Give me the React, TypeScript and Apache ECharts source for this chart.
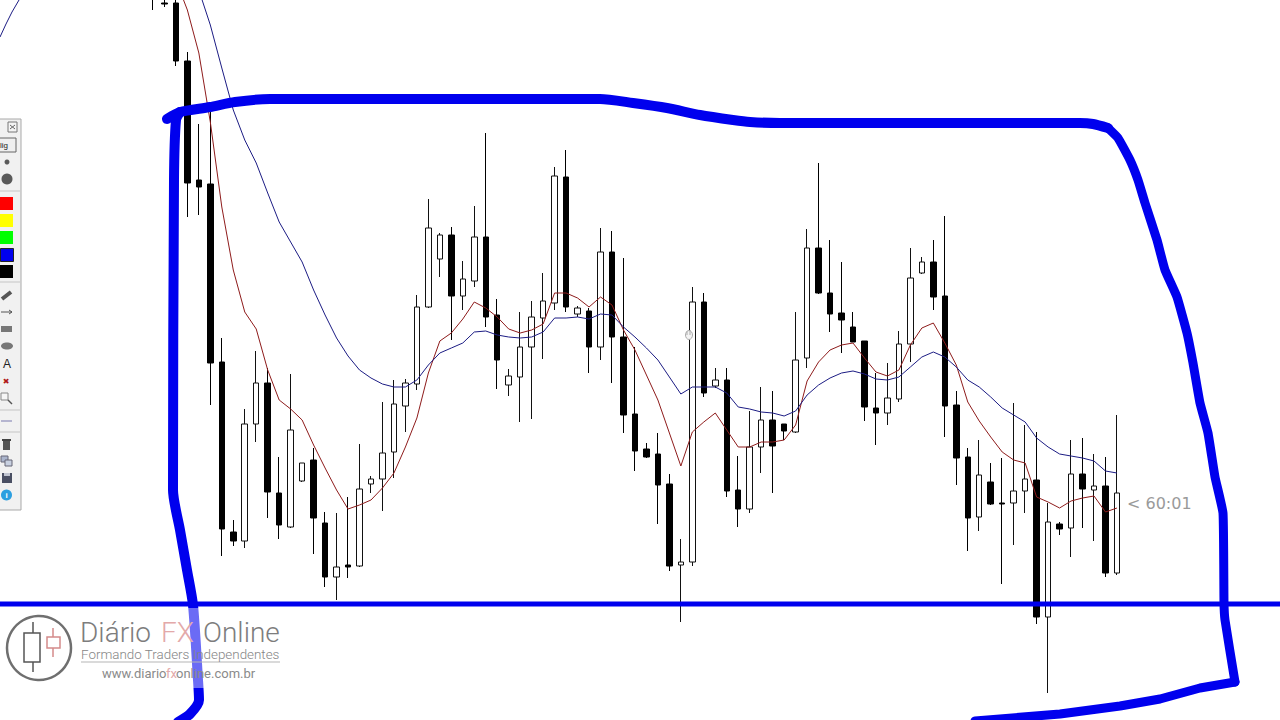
import React, { useEffect, useRef } from "react";
import * as echarts from "echarts";

const highs = [730,721,720,668,596,608,382,200,311,369,352,263,346,257,272,208,207,223,276,244,318,340,341,425,521,487,493,459,514,587,421,351,408,419,447,553,570,414,412,492,489,462,373,277,287,246,181,433,427,352,352,264,309,333,329,296,408,491,557,480,458,408,379,347,357,389,472,463,480,504,329,272,280,257,262,317,295,288,217,198,280,282,266,263,305];
const lows = [710,713,654,503,505,315,164,174,172,278,202,181,192,238,166,133,120,142,153,227,209,242,288,330,412,443,380,410,433,393,331,324,298,301,361,410,408,403,347,360,337,287,249,262,196,149,98,154,323,332,223,193,207,247,227,280,287,352,426,388,367,378,299,275,295,318,358,446,410,283,235,169,189,215,136,175,207,96,27,185,163,192,179,143,145];
const opens = [728,717,717,659,540,536,358,188,179,296,337,227,193,239,260,197,143,155,154,236,241,268,314,336,413,461,485,424,439,483,405,335,343,373,402,417,543,406,409,373,468,383,306,271,266,236,155,158,418,334,340,230,211,273,300,296,288,362,472,427,407,393,379,312,307,321,376,447,458,424,315,263,203,238,217,217,229,240,103,196,192,246,230,234,147];
const closes = [725,716,659,537,533,357,191,179,296,337,228,195,290,257,202,143,153,153,231,241,267,316,337,413,492,485,424,441,483,403,360,344,373,403,419,544,413,412,373,468,383,305,269,263,235,154,158,418,327,340,229,211,273,300,274,289,360,472,427,406,400,378,313,307,322,376,442,458,423,314,262,202,245,216,216,229,241,103,198,191,246,231,234,147,227];
const fastMA = [null,null,740,710,667,598,513,450,408,391,350,320,311,300,275,252,230,211,215,220,232,247,273,302,347,379,387,401,418,412,403,391,387,390,396,427,427,422,413,423,415,390,370,345,320,287,254,288,298,307,290,273,273,278,278,280,295,339,358,370,375,377,362,348,344,350,375,392,397,377,355,318,299,283,268,260,257,223,218,212,219,222,224,208,212];
const slowMA = [null,null,null,null,730,695,652,610,580,557,527,498,478,458,430,405,382,364,350,342,336,333,333,340,355,367,372,377,388,389,385,383,382,383,388,402,402,403,401,406,405,393,383,372,360,343,326,333,333,333,327,313,311,308,307,304,309,325,335,342,347,349,346,341,340,343,353,363,368,363,353,340,333,323,312,305,298,282,273,266,264,262,259,249,247];
const bars = highs.map((_, i) => String(i + 1));

// Hand-drawn annotations on a page-sized scale.
const topLeftTrace = [[0, 37], [6, 24], [12, 12], [19, 0]];
const boxTop = [[167,119],[172,116],[180,112],[210,107],[235,102],[270,99],[600,99],[633,103],[667,108],[700,115],[733,120],[750,122],[780,123],[1080,123],[1093,124],[1108,128]];
const boxRight = [[1108,128],[1118,138],[1130,160],[1138,180],[1145,203],[1157,240],[1165,270],[1177,297],[1187,333],[1193,363],[1200,403],[1208,433],[1215,477],[1223,513],[1224,603],[1225,620],[1235,682]];
const boxBottom = [[1235,682],[1200,688],[1160,699],[1120,706],[1060,714],[975,721]];
const boxLeft = [[180,112],[176,120],[174,180],[173,490],[180,530],[187,570],[193,605],[198,680],[199,700],[190,714],[178,722]];
const supportLine = [[0,604],[1280,604]];
const timerLabel = "< 60:01";

const rect = (x: number, y: number, width: number, height: number, style: any, z = 110) => ({ type: "rect", z, shape: { x, y, width, height }, style });
const line = (x1: number, y1: number, x2: number, y2: number, stroke: string, lineWidth = 1, z = 111) => ({ type: "line", z, shape: { x1, y1, x2, y2 }, style: { stroke, lineWidth } });
const circle = (cx: number, cy: number, r: number, style: any, z = 111) => ({ type: "circle", z, shape: { cx, cy, r }, style });
const ellipse = (cx: number, cy: number, rx: number, ry: number, style: any, z = 111) => ({ type: "ellipse", z, shape: { cx, cy, rx, ry }, style });
const text = (s: string, x: number, y: number, font: string, fill: string, textAlign = "left", z = 112) => ({ type: "text", z, style: { text: s, x, y, font, fill, textAlign, textVerticalAlign: "middle" } });

const toolbar = [
  rect(-2, 119, 23, 391, { fill: "#f1f1f1", stroke: "#a9a9a9", lineWidth: 1 }),
  rect(8, 122, 9, 10, { fill: "#f4f4f4", stroke: "#777", lineWidth: 1 }, 111),
  line(10, 125, 15, 129, "#666"), line(15, 125, 10, 129, "#666"),
  rect(-2, 138, 18, 14, { fill: "#efefef", stroke: "#666", lineWidth: 1 }, 111),
  text("lig", 0, 145, "8px 'Liberation Sans'", "#222"),
  circle(7, 162, 2.5, { fill: "#5a5a5a" }), circle(7, 179, 5.5, { fill: "#5a5a5a" }),
  line(0, 191, 20, 191, "#c5c5c5"),
  rect(0, 197, 13, 13, { fill: "#ff0000" }, 111),
  rect(0, 214, 13, 13, { fill: "#ffff00" }, 111),
  rect(0, 231, 13, 13, { fill: "#00ff00" }, 111),
  rect(0.5, 248.5, 13, 13, { fill: "#0000ee", stroke: "#222", lineWidth: 1 }, 111),
  rect(0, 265, 13, 13, { fill: "#000000" }, 111),
  line(0, 282, 20, 282, "#c5c5c5"),
  line(2, 299, 11, 292, "#555", 4),
  line(1, 312, 12, 312, "#555"), line(9, 310, 12, 312, "#555"), line(9, 314, 12, 312, "#555"),
  rect(1, 326, 11, 6, { fill: "#777" }, 111),
  ellipse(7, 346, 6, 3.5, { fill: "#777" }),
  text("A", 7, 364, "12px 'Liberation Sans'", "#222", "center"),
  text("✖", 6, 381, "8px 'DejaVu Sans'", "#b01818", "center"),
  rect(1, 393, 7, 7, { fill: "#f6f6f6", stroke: "#888", lineWidth: 1 }, 111),
  line(8, 400, 12, 404, "#555", 1.5),
  line(0, 410, 20, 410, "#c5c5c5"),
  rect(1, 420, 11, 2, { fill: "#b5b5d0" }, 111),
  line(0, 432, 20, 432, "#c5c5c5"),
  rect(3, 441, 7, 9, { fill: "#555" }, 111), rect(2, 439, 9, 2, { fill: "#444" }, 111),
  rect(1, 456, 7, 6, { fill: "#aab4cc", stroke: "#667", lineWidth: 1 }, 111),
  rect(5, 460, 7, 6, { fill: "#c8d0e0", stroke: "#667", lineWidth: 1 }, 112),
  rect(2, 473, 10, 10, { fill: "#4a4f63" }, 111), rect(4, 473, 6, 3, { fill: "#c0c4d0" }, 112),
  circle(6.5, 495, 5.5, { fill: "#2c9fe0" }),
  text("i", 6.5, 495, "bold 8px 'Liberation Sans'", "#ffffff", "center"),
];

const watermark = [
  rect(0, 608, 292, 80, { fill: "rgba(255,255,255,0.42)" }, 105),
  circle(39, 648, 32, { fill: "none", stroke: "#6f6f6f", lineWidth: 2.5 }),
  rect(24, 633, 16, 29, { fill: "none", stroke: "#555", lineWidth: 1.5 }, 111),
  line(33, 622, 33, 633, "#555", 1.5), line(33, 662, 33, 672, "#555", 1.5),
  rect(47, 637, 13, 11, { fill: "none", stroke: "#d48a8a", lineWidth: 1.5 }, 111),
  line(53, 628, 53, 637, "#d48a8a", 1.5), line(53, 648, 53, 657, "#d48a8a", 1.5),
  text("Diário", 80, 632, "300 28px Roboto", "#7d7d7d"),
  text("FX", 161, 632, "300 28px Roboto", "#e3a9a9"),
  text("Online", 203, 632, "300 28px Roboto", "#7d7d7d"),
  text("Formando Traders Independentes", 81, 654, "300 13.4px Roboto", "#858585"),
  line(81, 662, 280, 662, "#b5b5b5", 1),
  text("www.diario", 102, 673, "13px Roboto", "#8a8a8a"),
  text("fx", 166, 673, "13px Roboto", "#e3a9a9"),
  text("online.com.br", 176, 673, "13px Roboto", "#8a8a8a"),
];

const cursor = [
  ellipse(689, 335, 3.5, 4.5, { fill: "#f4f4f4", stroke: "#aaa", lineWidth: 1 }),
  line(687, 331, 687, 335, "#aaa"), line(690, 330, 690, 335, "#aaa"),
];

const timer = [text(timerLabel, 1127, 503, "16px 'DejaVu Sans'", "#9a9a9a")];

export default function App() {
  const ref = useRef<HTMLDivElement>(null);
  useEffect(() => {
    document.body.style.margin = "0";
    const chart = echarts.init(ref.current!, null, { renderer: "svg" });
    const drawn = (data: number[][], width: number, z: number, smooth = 0.25) => ({
      type: "line", xAxisIndex: 1, yAxisIndex: 1, data, z, showSymbol: false, silent: true, smooth,
      clip: false, lineStyle: { color: "#0000ee", width, cap: "round", join: "round" },
    });
    chart.setOption({
      animation: false,
      backgroundColor: "#ffffff",
      tooltip: { show: false },
      grid: [
        { left: 147.2, width: 975.5, top: 0, bottom: 0 },
        { left: 0, right: 0, top: 0, bottom: 0 },
      ],
      xAxis: [
        { type: "category", data: bars, show: false, boundaryGap: true, gridIndex: 0 },
        { type: "value", min: 0, max: 1280, show: false, gridIndex: 1 },
      ],
      yAxis: [
        { type: "value", min: 0, max: 720, show: false, gridIndex: 0 },
        { type: "value", min: 0, max: 720, inverse: true, show: false, gridIndex: 1 },
      ],
      series: [
        {
          type: "candlestick", z: 2, barWidth: 6, clip: true,
          data: bars.map((_, i) => [opens[i], closes[i], lows[i], highs[i]]),
          itemStyle: { color: "#ffffff", color0: "#000000", borderColor: "#111111", borderColor0: "#000000", borderWidth: 1 },
        },
        { type: "line", z: 3, data: fastMA, showSymbol: false, connectNulls: false, lineStyle: { color: "#8e1b1b", width: 1 } },
        { type: "line", z: 3, data: slowMA, showSymbol: false, connectNulls: false, lineStyle: { color: "#1c1c84", width: 1 } },
        { ...drawn(topLeftTrace, 1, 3, 0), lineStyle: { color: "#1c1c84", width: 1 } },
        drawn(supportLine, 5, 4, 0),
        drawn(boxLeft, 10, 4),
        drawn(boxTop, 10, 4),
        drawn(boxRight, 9, 4, 0.12),
        drawn(boxBottom, 9, 4, 0),
      ],
      graphic: { elements: [...watermark, ...toolbar, ...cursor, ...timer] },
    });
    return () => chart.dispose();
  }, []);
  return <div ref={ref} style={{ position: "fixed", left: 0, top: 0, width: 1280, height: 720 }} />;
}
